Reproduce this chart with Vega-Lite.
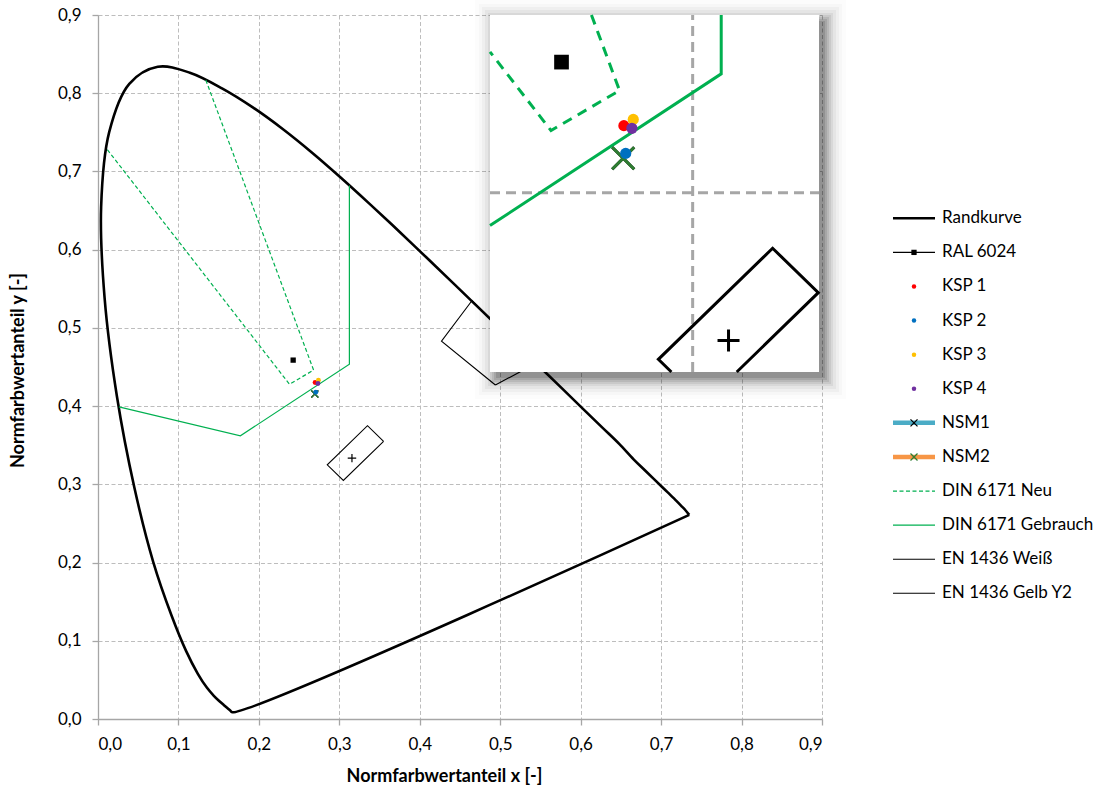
{
"$schema":"https://vega.github.io/schema/vega-lite/v6.json",
"width":724,"height":704,
"autosize":{"type":"none"},
"padding":{"left":98,"top":15,"right":281,"bottom":72},
"background":"#ffffff",
"config":{
 "view":{"stroke":null},
 "font":"Lato",
 "axis":{"labelFont":"Lato","titleFont":"Lato","labelFontSize":17,"titleFontSize":18,"titleFontWeight":"bold","labelColor":"#000000","titleColor":"#000000","domainColor":"#a6a6a6","domainWidth":1.3,"tickColor":"#a6a6a6","tickWidth":1.3,"tickSize":6,"labelPadding":11,"gridColor":"#bdbdbd","gridDash":[4,2.5],"gridWidth":1}
},
"datasets":{
 "locus":[
  {"o":0,"x":0.7350,"y":0.2610},
  {"o":1,"x":0.1669,"y":0.0086},{"o":2,"x":0.1644,"y":0.0109},{"o":3,"x":0.1611,"y":0.0138},{"o":4,"x":0.1566,"y":0.0177},
  {"o":5,"x":0.1510,"y":0.0227},{"o":6,"x":0.1440,"y":0.0297},{"o":7,"x":0.1355,"y":0.0399},{"o":8,"x":0.1241,"y":0.0578},
  {"o":9,"x":0.1096,"y":0.0868},{"o":10,"x":0.0913,"y":0.1327},{"o":11,"x":0.0687,"y":0.2007},{"o":12,"x":0.0454,"y":0.2950},
  {"o":13,"x":0.0235,"y":0.4127},{"o":14,"x":0.0082,"y":0.5384},{"o":15,"x":0.0039,"y":0.6548},{"o":16,"x":0.0139,"y":0.7502},
  {"o":17,"x":0.0389,"y":0.8120},{"o":18,"x":0.0743,"y":0.8338},{"o":19,"x":0.1142,"y":0.8262},{"o":20,"x":0.1547,"y":0.8059},
  {"o":21,"x":0.1929,"y":0.7816},{"o":22,"x":0.2296,"y":0.7543},{"o":23,"x":0.2658,"y":0.7243},{"o":24,"x":0.3016,"y":0.6923},
  {"o":25,"x":0.3373,"y":0.6589},{"o":26,"x":0.3731,"y":0.6245},{"o":27,"x":0.4087,"y":0.5896},{"o":28,"x":0.4441,"y":0.5547},
  {"o":29,"x":0.4788,"y":0.5202},{"o":30,"x":0.5125,"y":0.4866},{"o":31,"x":0.5448,"y":0.4544},{"o":32,"x":0.5752,"y":0.4242},
  {"o":33,"x":0.6029,"y":0.3965},{"o":34,"x":0.6270,"y":0.3725},{"o":35,"x":0.6482,"y":0.3514},{"o":36,"x":0.6658,"y":0.3320},
  {"o":37,"x":0.6801,"y":0.3177},{"o":38,"x":0.6915,"y":0.3063},{"o":39,"x":0.7006,"y":0.2973},{"o":40,"x":0.7079,"y":0.2900},
  {"o":41,"x":0.7190,"y":0.2789},{"o":42,"x":0.7260,"y":0.2715},{"o":43,"x":0.7300,"y":0.2672},
  {"o":45,"x":0.7350,"y":0.2610}
 ],
 "shapes":[
  {"s":"DIN 6171 Neu","o":1,"x":0.134,"y":0.817},{"s":"DIN 6171 Neu","o":2,"x":0.268,"y":0.446},{"s":"DIN 6171 Neu","o":3,"x":0.238,"y":0.428},{"s":"DIN 6171 Neu","o":4,"x":0.010,"y":0.730},
  {"s":"DIN 6171 Gebrauch","o":1,"x":0.026,"y":0.399},{"s":"DIN 6171 Gebrauch","o":2,"x":0.177,"y":0.362},{"s":"DIN 6171 Gebrauch","o":3,"x":0.3125,"y":0.4535},{"s":"DIN 6171 Gebrauch","o":4,"x":0.3125,"y":0.682},
  {"s":"EN 1436 Weiß","o":1,"x":0.355,"y":0.355},{"s":"EN 1436 Weiß","o":2,"x":0.305,"y":0.305},{"s":"EN 1436 Weiß","o":3,"x":0.285,"y":0.325},{"s":"EN 1436 Weiß","o":4,"x":0.335,"y":0.375},{"s":"EN 1436 Weiß","o":5,"x":0.355,"y":0.355},
  {"s":"EN 1436 Gelb Y2","o":1,"x":0.494,"y":0.427},{"s":"EN 1436 Gelb Y2","o":2,"x":0.545,"y":0.455},{"s":"EN 1436 Gelb Y2","o":3,"x":0.465,"y":0.535},{"s":"EN 1436 Gelb Y2","o":4,"x":0.427,"y":0.483},{"s":"EN 1436 Gelb Y2","o":5,"x":0.494,"y":0.427}
 ],
 "points":[
  {"s":"RAL 6024","x":0.2426,"y":0.4588},
  {"s":"KSP 1","x":0.2699,"y":0.4302},
  {"s":"KSP 2","x":0.2707,"y":0.4177},
  {"s":"KSP 3","x":0.2740,"y":0.4330},
  {"s":"KSP 4","x":0.2734,"y":0.4290},
  {"s":"NSM1","x":0.2696,"y":0.4155},
  {"s":"NSM2","x":0.2696,"y":0.4155},
  {"s":"Weißpunkt","x":0.3157,"y":0.3335}
 ],
 "inset_lines":[
  {"s":"DIN 6171 Neu","o":1,"x":0.2557,"y":0.48},{"s":"DIN 6171 Neu","o":2,"x":0.268,"y":0.446},{"s":"DIN 6171 Neu","o":3,"x":0.238,"y":0.428},{"s":"DIN 6171 Neu","o":4,"x":0.2113,"y":0.4634},
  {"s":"DIN 6171 Gebrauch","o":1,"x":0.2113,"y":0.3852},{"s":"DIN 6171 Gebrauch","o":2,"x":0.3125,"y":0.4535},{"s":"DIN 6171 Gebrauch","o":3,"x":0.3125,"y":0.48},
  {"s":"EN 1436 Weiß","o":1,"x":0.2907,"y":0.3193},{"s":"EN 1436 Weiß","o":2,"x":0.285,"y":0.325},{"s":"EN 1436 Weiß","o":3,"x":0.335,"y":0.375},{"s":"EN 1436 Weiß","o":4,"x":0.355,"y":0.355},{"s":"EN 1436 Weiß","o":5,"x":0.3193,"y":0.3193}
 ],
 "inset_grid":[{"x":0.3,"x2":0.3,"y":0.3193,"y2":0.48},{"x":0.2113,"x2":0.3553,"y":0.4,"y2":0.4}],
 "inset_frame":[{"x":0.2113,"x2":0.3553,"y":0.3193,"y2":0.48}],
 "legend_lines":[
  {"label":"Randkurve","lx":0},{"label":"Randkurve","lx":1},
  {"label":"RAL 6024","lx":0},{"label":"RAL 6024","lx":1},
  {"label":"NSM1","lx":0},{"label":"NSM1","lx":1},
  {"label":"NSM2","lx":0},{"label":"NSM2","lx":1},
  {"label":"DIN 6171 Neu","lx":0},{"label":"DIN 6171 Neu","lx":1},
  {"label":"DIN 6171 Gebrauch","lx":0},{"label":"DIN 6171 Gebrauch","lx":1},
  {"label":"EN 1436 Weiß","lx":0},{"label":"EN 1436 Weiß","lx":1},
  {"label":"EN 1436 Gelb Y2","lx":0},{"label":"EN 1436 Gelb Y2","lx":1}
 ],
 "legend_items":[
  {"label":"Randkurve","lx":0.5},{"label":"RAL 6024","lx":0.5},{"label":"KSP 1","lx":0.5},{"label":"KSP 2","lx":0.5},
  {"label":"KSP 3","lx":0.5},{"label":"KSP 4","lx":0.5},{"label":"NSM1","lx":0.5},{"label":"NSM2","lx":0.5},
  {"label":"DIN 6171 Neu","lx":0.5},{"label":"DIN 6171 Gebrauch","lx":0.5},{"label":"EN 1436 Weiß","lx":0.5},{"label":"EN 1436 Gelb Y2","lx":0.5}
 ]
},
"layer":[
 {
  "encoding":{
   "x":{"field":"x","type":"quantitative","scale":{"domain":[0,0.9],"nice":false,"zero":false},
        "axis":{"values":[0,0.1,0.2,0.3,0.4,0.5,0.6,0.7,0.8,0.9],"labelExpr":"replace(format(datum.value,'.1f'),'.',',')","title":"Normfarbwertanteil x [-]","titleX":346,"titleY":57,"titleBaseline":"middle","titleAlign":"center","grid":true}},
   "y":{"field":"y","type":"quantitative","scale":{"domain":[0,0.9],"nice":false,"zero":false},
        "axis":{"values":[0,0.1,0.2,0.3,0.4,0.5,0.6,0.7,0.8,0.9],"labelExpr":"replace(format(datum.value,'.1f'),'.',',')","title":"Normfarbwertanteil y [-]","titleX":-80,"titleY":355,"titleAngle":-90,"titleBaseline":"middle","titleAlign":"center","grid":true}}
  },
  "layer":[
   {"data":{"name":"locus"},"mark":{"type":"line","color":"#000000","strokeWidth":2.6,"interpolate":"catmull-rom","strokeJoin":"round"},"encoding":{"order":{"field":"o","type":"quantitative"}}},
   {"data":{"name":"shapes"},"transform":[{"filter":"datum.s === 'DIN 6171 Neu'"}],"mark":{"type":"line","color":"#00b050","strokeWidth":1.2,"strokeDash":[4,2.5]},"encoding":{"order":{"field":"o","type":"quantitative"}}},
   {"data":{"name":"shapes"},"transform":[{"filter":"datum.s === 'DIN 6171 Gebrauch'"}],"mark":{"type":"line","color":"#00b050","strokeWidth":1.2},"encoding":{"order":{"field":"o","type":"quantitative"}}},
   {"data":{"name":"shapes"},"transform":[{"filter":"datum.s === 'EN 1436 Weiß'"}],"mark":{"type":"line","color":"#000000","strokeWidth":1.1},"encoding":{"order":{"field":"o","type":"quantitative"}}},
   {"data":{"name":"shapes"},"transform":[{"filter":"datum.s === 'EN 1436 Gelb Y2'"}],"mark":{"type":"line","color":"#000000","strokeWidth":1.1},"encoding":{"order":{"field":"o","type":"quantitative"}}},
   {"data":{"name":"points"},"transform":[{"filter":"datum.s === 'NSM1'"}],"mark":{"type":"point","shape":"M-1,-1L1,1M1,-1L-1,1","size":49,"filled":false,"color":"#000000","strokeWidth":1.3,"opacity":1}},
   {"data":{"name":"points"},"transform":[{"filter":"datum.s === 'NSM2'"}],"mark":{"type":"point","shape":"M-1,-1L1,1M1,-1L-1,1","size":49,"filled":false,"color":"#2e7d32","strokeWidth":1.3,"opacity":1}},
   {"data":{"name":"points"},"transform":[{"filter":"datum.s === 'RAL 6024'"}],"mark":{"type":"square","size":28,"color":"#000000","opacity":1}},
   {"data":{"name":"points"},"transform":[{"filter":"indexof(datum.s, 'KSP') === 0"}],"mark":{"type":"circle","size":24,"opacity":1},
    "encoding":{"color":{"field":"s","type":"nominal","scale":{"domain":["KSP 1","KSP 2","KSP 3","KSP 4"],"range":["#ff0000","#0070c0","#ffc000","#7030a0"]},"legend":null}}},
   {"data":{"name":"points"},"transform":[{"filter":"datum.s === 'Weißpunkt'"}],"mark":{"type":"point","shape":"M-1,0L1,0M0,-1L0,1","size":72,"filled":false,"color":"#000000","strokeWidth":1.2,"opacity":1}}
  ]
 },
 {
  "encoding":{
   "x":{"field":"x","type":"quantitative","scale":{"domain":[0.2113,0.3553],"range":[392,721],"nice":false,"zero":false},"axis":null},
   "y":{"field":"y","type":"quantitative","scale":{"domain":[0.3193,0.48],"range":[357,0],"nice":false,"zero":false},"axis":null},
   "x2":{"field":"x2"},
   "y2":{"field":"y2"}
  },
  "layer":[
   {"data":{"name":"inset_frame"},"mark":{"type":"rect","fill":"#000000","fillOpacity":0.12,"xOffset":6,"x2Offset":6,"yOffset":6,"y2Offset":6}},
   {"data":{"name":"inset_frame"},"mark":{"type":"rect","fill":"#000000","fillOpacity":0.1,"xOffset":4,"x2Offset":8,"yOffset":8,"y2Offset":4}},
   {"data":{"name":"inset_frame"},"mark":{"type":"rect","fill":"#000000","fillOpacity":0.08,"xOffset":2,"x2Offset":10,"yOffset":10,"y2Offset":2}},
   {"data":{"name":"inset_frame"},"mark":{"type":"rect","fill":"#000000","fillOpacity":0.065,"xOffset":0,"x2Offset":12,"yOffset":12,"y2Offset":0}},
   {"data":{"name":"inset_frame"},"mark":{"type":"rect","fill":"#000000","fillOpacity":0.05,"xOffset":-2,"x2Offset":14,"yOffset":14,"y2Offset":-2}},
   {"data":{"name":"inset_frame"},"mark":{"type":"rect","fill":"#000000","fillOpacity":0.04,"xOffset":-5,"x2Offset":17,"yOffset":17,"y2Offset":-5}},
   {"data":{"name":"inset_frame"},"mark":{"type":"rect","fill":"#000000","fillOpacity":0.03,"xOffset":-8,"x2Offset":20,"yOffset":20,"y2Offset":-8}},
   {"data":{"name":"inset_frame"},"mark":{"type":"rect","fill":"#000000","fillOpacity":0.02,"xOffset":-11,"x2Offset":23,"yOffset":23,"y2Offset":-11}},
   {"data":{"name":"inset_frame"},"mark":{"type":"rect","fill":"#000000","fillOpacity":0.012,"xOffset":-15,"x2Offset":27,"yOffset":27,"y2Offset":-15}},
   {"data":{"name":"inset_frame"},"mark":{"type":"rect","fill":"#ffffff"}},
   {"data":{"name":"inset_grid"},"mark":{"type":"rule","color":"#a6a6a6","strokeWidth":3,"strokeDash":[10,6]}},
   {"data":{"name":"inset_lines"},"transform":[{"filter":"datum.s === 'DIN 6171 Neu'"}],"mark":{"type":"line","color":"#00b050","strokeWidth":3,"strokeDash":[10,7]},"encoding":{"x2":null,"y2":null,"order":{"field":"o","type":"quantitative"}}},
   {"data":{"name":"inset_lines"},"transform":[{"filter":"datum.s === 'DIN 6171 Gebrauch'"}],"mark":{"type":"line","color":"#00b050","strokeWidth":3},"encoding":{"x2":null,"y2":null,"order":{"field":"o","type":"quantitative"}}},
   {"data":{"name":"inset_lines"},"transform":[{"filter":"datum.s === 'EN 1436 Weiß'"}],"mark":{"type":"line","color":"#000000","strokeWidth":3},"encoding":{"x2":null,"y2":null,"order":{"field":"o","type":"quantitative"}}},
   {"data":{"name":"points"},"transform":[{"filter":"datum.s === 'NSM1'"}],"mark":{"type":"point","shape":"M-1,-1L1,1M1,-1L-1,1","size":484,"filled":false,"color":"#000000","strokeWidth":3,"opacity":1},"encoding":{"x2":null,"y2":null}},
   {"data":{"name":"points"},"transform":[{"filter":"datum.s === 'NSM2'"}],"mark":{"type":"point","shape":"M-1,-1L1,1M1,-1L-1,1","size":484,"filled":false,"color":"#2e7d32","strokeWidth":3,"opacity":1},"encoding":{"x2":null,"y2":null}},
   {"data":{"name":"points"},"transform":[{"filter":"datum.s === 'RAL 6024'"}],"mark":{"type":"square","size":216,"color":"#000000","opacity":1},"encoding":{"x2":null,"y2":null}},
   {"data":{"name":"points"},"transform":[{"filter":"indexof(datum.s, 'KSP') === 0"}],"mark":{"type":"circle","size":125,"opacity":1},
    "encoding":{"x2":null,"y2":null,"color":{"field":"s","type":"nominal","scale":{"domain":["KSP 1","KSP 2","KSP 3","KSP 4"],"range":["#ff0000","#0070c0","#ffc000","#7030a0"]},"legend":null}}},
   {"data":{"name":"points"},"transform":[{"filter":"datum.s === 'Weißpunkt'"}],"mark":{"type":"point","shape":"M-1,0L1,0M0,-1L0,1","size":484,"filled":false,"color":"#000000","strokeWidth":3,"opacity":1},"encoding":{"x2":null,"y2":null}}
  ]
 },
 {
  "encoding":{
   "y":{"field":"label","type":"nominal","scale":{"type":"point","domain":["Randkurve","RAL 6024","KSP 1","KSP 2","KSP 3","KSP 4","NSM1","NSM2","DIN 6171 Neu","DIN 6171 Gebrauch","EN 1436 Weiß","EN 1436 Gelb Y2"],"range":[203.3,578.3],"padding":0},"axis":null},
   "x":{"field":"lx","type":"quantitative","scale":{"domain":[0,1],"range":[795,837],"nice":false,"zero":false},"axis":null}
  },
  "layer":[
   {"data":{"name":"legend_lines"},"transform":[{"filter":"datum.label === 'Randkurve'"}],"mark":{"type":"line","color":"#000000","strokeWidth":2.6},"encoding":{"detail":{"field":"label"}}},
   {"data":{"name":"legend_lines"},"transform":[{"filter":{"field":"label","oneOf":["RAL 6024","EN 1436 Weiß","EN 1436 Gelb Y2"]}}],"mark":{"type":"line","color":"#000000","strokeWidth":1.1},"encoding":{"detail":{"field":"label"}}},
   {"data":{"name":"legend_lines"},"transform":[{"filter":"datum.label === 'NSM1'"}],"mark":{"type":"line","color":"#4bacc6","strokeWidth":4.5},"encoding":{"detail":{"field":"label"}}},
   {"data":{"name":"legend_lines"},"transform":[{"filter":"datum.label === 'NSM2'"}],"mark":{"type":"line","color":"#f79646","strokeWidth":4.5},"encoding":{"detail":{"field":"label"}}},
   {"data":{"name":"legend_lines"},"transform":[{"filter":"datum.label === 'DIN 6171 Neu'"}],"mark":{"type":"line","color":"#00b050","strokeWidth":1.3,"strokeDash":[4,2.5]},"encoding":{"detail":{"field":"label"}}},
   {"data":{"name":"legend_lines"},"transform":[{"filter":"datum.label === 'DIN 6171 Gebrauch'"}],"mark":{"type":"line","color":"#00b050","strokeWidth":1.3},"encoding":{"detail":{"field":"label"}}},
   {"data":{"name":"legend_items"},"transform":[{"filter":"datum.label === 'RAL 6024'"}],"mark":{"type":"square","size":28,"color":"#000000","opacity":1}},
   {"data":{"name":"legend_items"},"transform":[{"filter":"indexof(datum.label, 'KSP') === 0"}],"mark":{"type":"circle","size":20,"opacity":1},
    "encoding":{"color":{"field":"label","type":"nominal","scale":{"domain":["KSP 1","KSP 2","KSP 3","KSP 4"],"range":["#ff0000","#0070c0","#ffc000","#7030a0"]},"legend":null}}},
   {"data":{"name":"legend_items"},"transform":[{"filter":"datum.label === 'NSM1'"}],"mark":{"type":"point","shape":"M-1,-1L1,1M1,-1L-1,1","size":49,"filled":false,"color":"#000000","strokeWidth":1.3,"opacity":1}},
   {"data":{"name":"legend_items"},"transform":[{"filter":"datum.label === 'NSM2'"}],"mark":{"type":"point","shape":"M-1,-1L1,1M1,-1L-1,1","size":49,"filled":false,"color":"#2e7d32","strokeWidth":1.3,"opacity":1}},
   {"data":{"name":"legend_items"},"mark":{"type":"text","align":"left","baseline":"middle","dx":7,"fontSize":17,"font":"Lato","color":"#000000"},
    "encoding":{"x":{"datum":1,"type":"quantitative"},"text":{"field":"label"}}}
  ]
 }
],
"resolve":{"scale":{"x":"independent","y":"independent","color":"independent"}}
}
